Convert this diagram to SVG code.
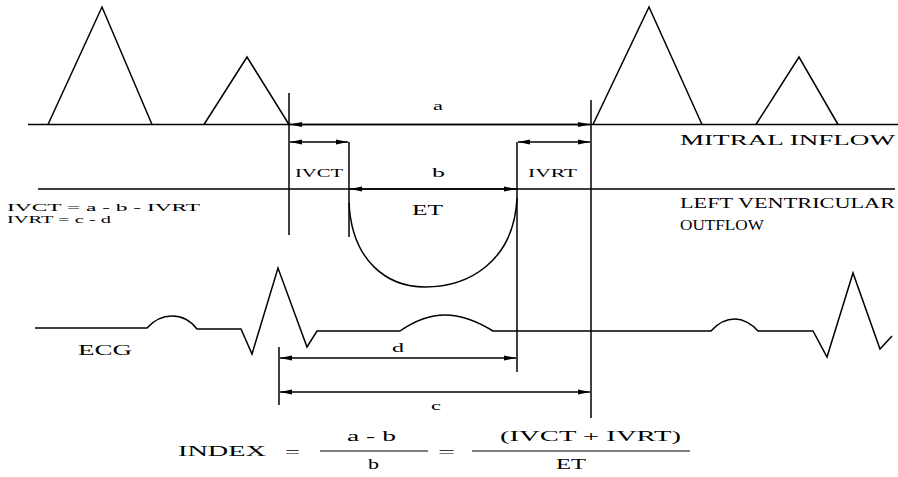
<svg xmlns="http://www.w3.org/2000/svg" width="898" height="477" viewBox="0 0 898 477">
<style>
.ln{stroke:#000;stroke-width:1.5;fill:none}
.th{stroke:#000;stroke-width:1.2;fill:none}
.ar{stroke:#000;stroke-width:1.3;fill:none;marker-start:url(#ah);marker-end:url(#ah)}
text{font-family:"Liberation Serif","Times New Roman",serif;fill:#000}
.t14{font-size:14px}
.t10{font-size:10.5px}
.t13{font-size:13px}
.t15{font-size:15px}
</style>
<defs>
<marker id="ah" viewBox="0 0 12 6" refX="12" refY="3" markerWidth="12" markerHeight="6" markerUnits="userSpaceOnUse" orient="auto-start-reverse">
<path d="M0,0.5 L12,3 L0,5.5 Z" fill="#000"/>
</marker>
</defs>
<rect width="898" height="477" fill="#fff"/>

<g id="mitral-inflow">
<path class="ln" d="M28,124.5 L898,124.5"/>
<path class="ln" d="M48,124.5 L102,7 L152,124.5"/>
<path class="ln" d="M204,124.5 L247,57 L289,124.5"/>
<path class="ln" d="M593,124.5 L649,7 L702,124.5"/>
<path class="ln" d="M756,124.5 L799,57 L838,124.5"/>
<text class="t14" x="680" y="145" textLength="215" lengthAdjust="spacingAndGlyphs">MITRAL INFLOW</text>
</g>

<g id="lv-outflow">
<path class="ln" d="M38,189 L895,189"/>
<path class="ln" d="M349,203 C352,262 388,287 425,287 C468,287 514,262 517,198"/>
<text class="t14" x="680" y="208" textLength="215" lengthAdjust="spacingAndGlyphs">LEFT VENTRICULAR</text>
<text class="t14" x="680" y="230" textLength="84" lengthAdjust="spacingAndGlyphs">OUTFLOW</text>
<text class="t14" x="412" y="215" textLength="31" lengthAdjust="spacingAndGlyphs">ET</text>
</g>

<g id="ecg">
<path class="ln" d="M35,328 L147,328 C155,319 164,316 172,316 C181,316 190,320 197,329 L241,329 L252,354 L278,268 L307,347 L317,331 L400,331 C413,322 430,315 445,315 C462,315 480,323 493,331 L711,331 C718,323 727,319 735,319 C743,319 752,324 758,331 L813,331 L827,357 L853,273 L880,349 L892,336"/>
<text class="t14" x="78" y="355" textLength="54" lengthAdjust="spacingAndGlyphs">ECG</text>
</g>

<g id="equations">
<text class="t10" x="7" y="211" textLength="193" lengthAdjust="spacingAndGlyphs">IVCT = a - b - IVRT</text>
<text class="t10" x="7" y="223" textLength="104" lengthAdjust="spacingAndGlyphs">IVRT = c - d</text>
</g>

<g id="index-formula">
<text class="t15" x="178" y="456" textLength="88" lengthAdjust="spacingAndGlyphs">INDEX</text>
<text class="t15" x="285" y="457" textLength="15" lengthAdjust="spacingAndGlyphs">=</text>
<path class="th" d="M320,451 L428,451"/>
<text class="t14" x="347" y="441" textLength="49" lengthAdjust="spacingAndGlyphs">a - b</text>
<text class="t14" x="368" y="469" textLength="11" lengthAdjust="spacingAndGlyphs">b</text>
<text class="t15" x="438" y="457" textLength="17" lengthAdjust="spacingAndGlyphs">=</text>
<path class="th" d="M472,451 L690,451"/>
<text class="t14" x="500" y="441" textLength="181" lengthAdjust="spacingAndGlyphs">(IVCT + IVRT)</text>
<text class="t14" x="556" y="469" textLength="30" lengthAdjust="spacingAndGlyphs">ET</text>
</g>

<g id="connectors">
<path class="ln" d="M289,93 L289,235"/>
<path class="ln" d="M591,100 L591,418"/>
<path class="ln" d="M349,142 L349,237"/>
<path class="ln" d="M517,142 L517,372"/>
<path class="ln" d="M279,347 L279,405"/>
<path class="ar" d="M290,124.5 L590,124.5"/>
<path class="ar" d="M290,142 L348,142"/>
<path class="ar" d="M518,142 L590,142"/>
<path class="ar" d="M350,189 L516,189"/>
<path class="ar" d="M280,358 L516,358"/>
<path class="ar" d="M280,392 L590,392"/>
<text class="t13" x="433" y="110" textLength="10" lengthAdjust="spacingAndGlyphs">a</text>
<text class="t13" x="295" y="177" textLength="48" lengthAdjust="spacingAndGlyphs">IVCT</text>
<text class="t13" x="432" y="177" textLength="13" lengthAdjust="spacingAndGlyphs">b</text>
<text class="t13" x="528" y="177" textLength="49" lengthAdjust="spacingAndGlyphs">IVRT</text>
<text class="t13" x="392" y="352" textLength="12" lengthAdjust="spacingAndGlyphs">d</text>
<text class="t13" x="431" y="410" textLength="10" lengthAdjust="spacingAndGlyphs">c</text>
</g>
</svg>
